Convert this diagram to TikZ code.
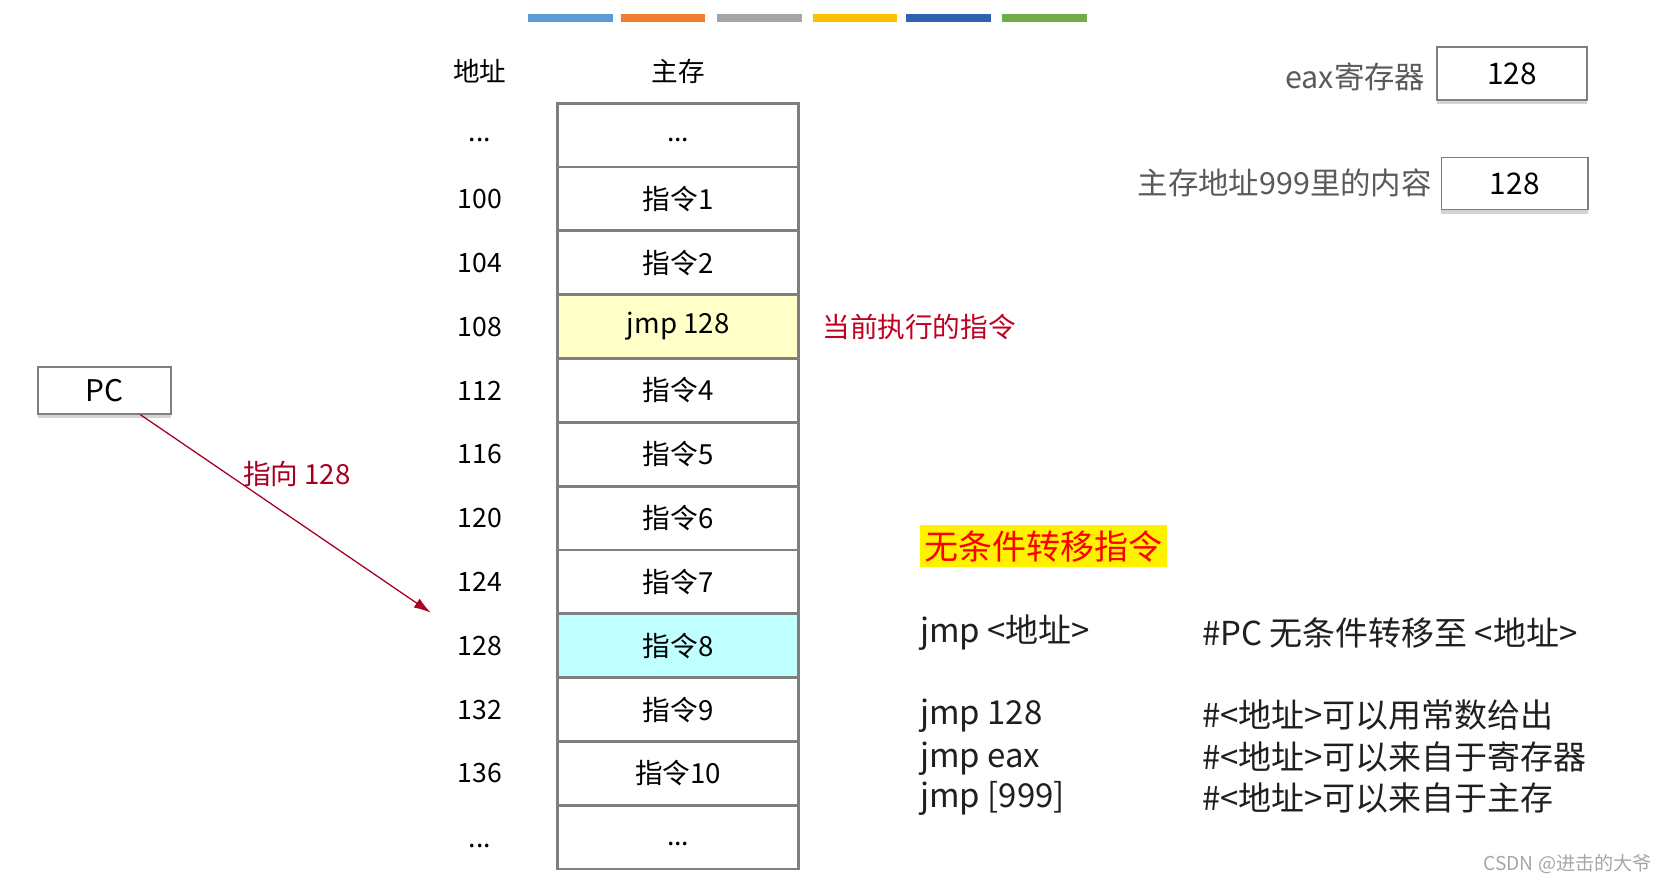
\documentclass[tikz,border=0pt]{standalone}
\usepackage{fontspec}
\setmainfont{Noto Sans CJK SC}
\usetikzlibrary{arrows.meta,shadows}

\definecolor{cellgray}{HTML}{7F7F7F}
\definecolor{jmpfill}{HTML}{FFFFC8}
\definecolor{hitfill}{HTML}{C0FFFF}
\definecolor{notered}{HTML}{C00020}
\definecolor{arrowred}{HTML}{A50021}
\definecolor{labelgray}{HTML}{5A5A5A}
\definecolor{barblue}{HTML}{5B9BD5}
\definecolor{barorange}{HTML}{ED7D31}
\definecolor{bargray}{HTML}{A5A5A5}
\definecolor{baryellow}{HTML}{FFC000}
\definecolor{bardark}{HTML}{3060B0}
\definecolor{bargreen}{HTML}{70AD47}

\tikzset{
  cell/.style={rectangle,draw=cellgray,line width=1.3pt,fill=white,
    minimum width=113.5pt,minimum height=30pt,inner sep=0pt,outer sep=0pt,
    font=\fontsize{13}{15}\selectfont},
  addr/.style={font=\fontsize{12.5}{15}\selectfont},
  regbox/.style={rectangle,draw=cellgray,line width=0.8pt,fill=white,inner sep=0pt,
    drop shadow={shadow xshift=0pt,shadow yshift=-2pt,opacity=0.35},
    font=\fontsize{14}{16}\selectfont},
  code/.style={anchor=west,font=\fontsize{15.5}{18}\selectfont,text=black!88},
}

\begin{document}
\begin{tikzpicture}[x=0.5pt,y=-0.5pt]

	\def\cellx{637.5}
	\useasboundingbox (0,0) rectangle (1569,830);
	
	% colour bars on top
	\fill[barblue] (496,13) rectangle (576,21);
	\fill[barorange] (584,13) rectangle (663,21);
	\fill[bargray] (674,13) rectangle (754,21);
	\fill[baryellow] (764,13) rectangle (843,21);
	\fill[bardark] (852,13) rectangle (932,21);
	\fill[bargreen] (942,13) rectangle (1022,21);
	
	\node[addr] (haddr) at (451,67) {地址};
	\node[addr] (hmem) at (\cellx,67) {主存};
	
	% main memory
	\node[cell] (m0) at (\cellx,127) {};
	\node[cell] (m1) at (\cellx,187) {指令1};
	\node[cell] (m2) at (\cellx,247) {指令2};
	\node[cell,fill=jmpfill] (m3) at (\cellx,307) {jmp 128};
	\node[cell] (m4) at (\cellx,367) {指令4};
	\node[cell] (m5) at (\cellx,427) {指令5};
	\node[cell] (m6) at (\cellx,487) {指令6};
	\node[cell] (m7) at (\cellx,547) {指令7};
	\node[cell,fill=hitfill] (m8) at (\cellx,607) {指令8};
	\node[cell] (m9) at (\cellx,667) {指令9};
	\node[cell] (m10) at (\cellx,727) {指令10};
	\node[cell] (m11) at (\cellx,787) {};
	\node[addr] (d0) at (\cellx,132) {...};
	\node[addr] (d11) at (\cellx,793) {...};
	
	% addresses
	\node[addr] (a0) at (451,132) {...};
	\node[addr] (a1) at (451,187) {100};
	\node[addr] (a2) at (451,247) {104};
	\node[addr] (a3) at (451,307) {108};
	\node[addr] (a4) at (451,367) {112};
	\node[addr] (a5) at (451,427) {116};
	\node[addr] (a6) at (451,487) {120};
	\node[addr] (a7) at (451,547) {124};
	\node[addr] (a8) at (451,607) {128};
	\node[addr] (a9) at (451,667) {132};
	\node[addr] (a10) at (451,727) {136};
	\node[addr] (a11) at (451,795) {...};
	
	\node[anchor=west,text=notered,font=\fontsize{13}{15}\selectfont] (cur) at (766,307) {当前执行的指令};
	
	% program counter
	\node[regbox,minimum width=62.5pt,minimum height=22pt] (pc) at (98.5,367) {PC};
	\coordinate (pctarget) at (405,576);
	\draw[arrowred,line width=0.6pt,-{Latex[length=8pt,width=5pt]}] (pc) -- (pctarget);
	\node[text=arrowred,font=\fontsize{13}{15}\selectfont] (pclabel) at (279,446) {指向 128};
	
	% registers
	\node[regbox,minimum width=70.5pt,minimum height=25pt] (eax) at (1421.5,69) {128};
	\node[anchor=east,text=labelgray,font=\fontsize{14.3}{16}\selectfont] (eaxlabel) at (1347,72) {eax寄存器};
	\node[regbox,minimum width=69pt,minimum height=24.5pt] (mem999) at (1424,172.5) {128};
	\node[anchor=east,text=labelgray,font=\fontsize{14.3}{16}\selectfont] (memlabel) at (1353,172) {主存地址999里的内容};
	
	% jmp forms
	\node[fill=yellow,text=red,minimum width=116pt,minimum height=19.5pt,inner sep=0pt,font=\fontsize{16}{18}\selectfont] (title) at (981,513.5) {无条件转移指令};
	
	\node[code] (j0) at (858,595) {jmp <地址>};
	\node[code] (c0) at (1123,595) {\#PC 无条件转移至 <地址>};
	\node[code] (j1) at (858,673) {jmp 128};
	\node[code] (c1) at (1123,672) {\#<地址>可以用常数给出};
	\node[code] (j2) at (858,713) {jmp eax};
	\node[code] (c2) at (1123,712) {\#<地址>可以来自于寄存器};
	\node[code] (j3) at (858,751) {jmp [999]};
	\node[code] (c3) at (1123,750) {\#<地址>可以来自于主存};
	
	\node[anchor=east,text=black!35,font=\fontsize{9}{11}\selectfont] (mark) at (1560,812) {CSDN @进击的大爷};
	
\end{tikzpicture}
\end{document}
